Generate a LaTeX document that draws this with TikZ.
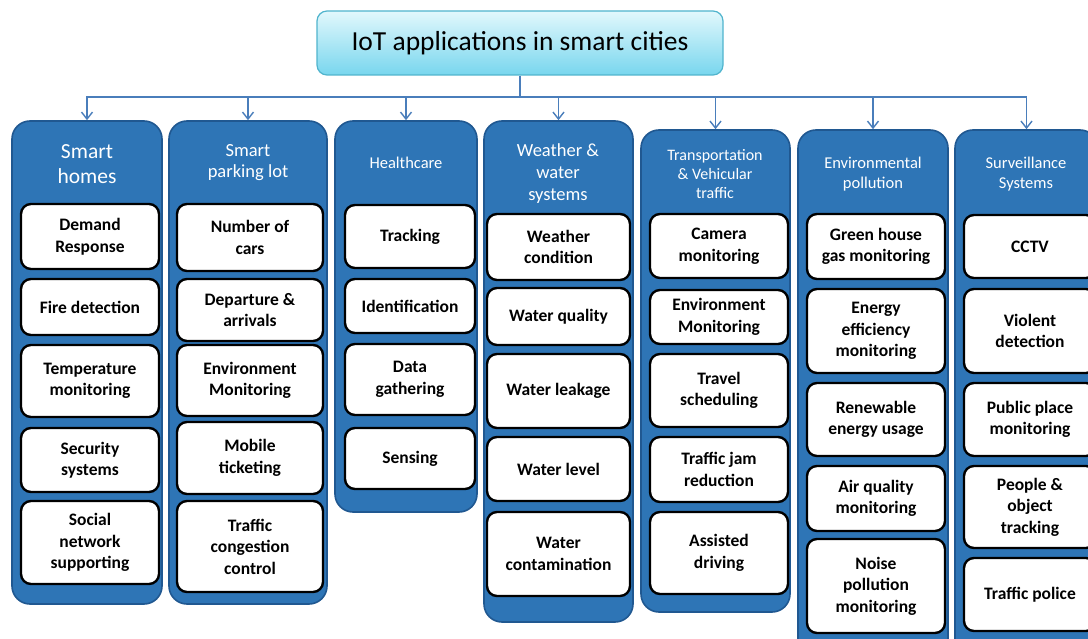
\documentclass[tikz,border=0pt]{standalone}
\usepackage{fontspec}
\setmainfont{Carlito}
\usetikzlibrary{arrows.meta}
\definecolor{colfill}{RGB}{46,117,182}
\definecolor{coledge}{RGB}{32,88,145}
\definecolor{connc}{RGB}{74,126,187}
\definecolor{ttop}{RGB}{226,248,252}
\definecolor{tbot}{RGB}{120,214,238}
\definecolor{tedge}{RGB}{80,180,205}
\tikzset{
  colbox/.style={draw=coledge, line width=1.6pt, fill=colfill, rounded corners=18pt, inner sep=0pt},
  itembox/.style={draw=black, line width=2.4pt, fill=white, rounded corners=10pt, inner sep=0pt, align=center,
    font=\fontsize{17.5}{21.5}\selectfont\bfseries},
  headtxt/.style={text=white, align=center, inner sep=0pt},
  conn/.style={draw=connc, line width=1.6pt},
  arr/.style={conn, -{Straight Barb[length=7pt,width=11pt,line width=1.4pt]}},
}
\newcommand\mybox[6]{%
  \node[itembox, minimum width={#4-#2}, minimum height={#5-#3}] (#1) at ({(#2+#4)/2},{(#3+#5)/2+1}) {#6};}
\newcommand\mycol[5]{%
  \node[colbox, minimum width={#4-#2}, minimum height={#5-#3}] (#1) at ({(#2+#4)/2},{(#3+#5)/2}) {};}
\begin{document}
\begin{tikzpicture}[x=1pt,y=-1pt]
\useasboundingbox (0,0) rectangle (1088,639);
\clip (0,0) rectangle (1088,639);

% title
\node[draw=tedge, line width=1.2pt, top color=ttop, bottom color=tbot, rounded corners=10pt,
  minimum width=406pt, minimum height=64pt, inner sep=0pt,
  font=\fontsize{27.5}{30}\selectfont] (title) at (520,43) {IoT applications in smart cities};

% columns
\mycol{c1}{12}{121}{162}{604}
\mycol{c2}{169}{121}{327}{604}
\mycol{c3}{335}{121}{477}{512}
\mycol{c4}{484}{121}{633}{622}
\mycol{c5}{641}{130}{790}{612}
\mycol{c6}{798}{130}{948}{665}
\mycol{c7}{955}{130}{1098}{665}

% connectors
\coordinate (hub) at (520,97);
\draw[conn] (title.south) -- (hub);
\foreach \c in {c1,c2,c3,c4,c5,c6,c7}{\draw[arr] (hub) -| (\c.north);}

% headers
\node[headtxt, font=\fontsize{21.5}{25}\selectfont] (h1) at (87,164) {Smart\\homes};
\node[headtxt, font=\fontsize{18.5}{21}\selectfont] (h2) at (248,163) {Smart\\parking lot};
\node[headtxt, font=\fontsize{16.5}{20}\selectfont] (h3) at (406,163) {Healthcare};
\node[headtxt, font=\fontsize{18.5}{22}\selectfont] (h4) at (558,174) {Weather \&\\water\\systems};
\node[headtxt, font=\fontsize{16}{19}\selectfont] (h5) at (715,174) {Transportation\\\& Vehicular\\traffic};
\node[headtxt, font=\fontsize{16.5}{20}\selectfont] (h6) at (873,174) {Environmental\\pollution};
\node[headtxt, font=\fontsize{16.5}{20}\selectfont] (h7) at (1026,174) {Surveillance\\Systems};

% column 1
\mybox{c1a}{21}{203}{159}{268}{Demand\\Response}
\mybox{c1b}{21}{278}{159}{334}{Fire detection}
\mybox{c1c}{21}{344}{159}{416}{Temperature\\monitoring}
\mybox{c1d}{21}{427}{159}{491}{Security\\systems}
\mybox{c1e}{21}{500}{159}{583}{Social\\network\\supporting}
% column 2
\mybox{c2a}{177}{203}{323}{270}{Number of\\cars}
\mybox{c2b}{177}{278}{323}{340}{Departure \&\\arrivals}
\mybox{c2c}{177}{344}{323}{415}{Environment\\Monitoring}
\mybox{c2d}{177}{421}{323}{493}{Mobile\\ticketing}
\mybox{c2e}{177}{500}{323}{591}{Traffic\\congestion\\control}
% column 3
\mybox{c3a}{345}{204}{475}{267}{Tracking}
\mybox{c3b}{345}{278}{475}{332}{Identification}
\mybox{c3c}{345}{343}{475}{414}{Data\\gathering}
\mybox{c3d}{345}{427}{475}{488}{Sensing}
% column 4
\mybox{c4a}{487}{213}{630}{279}{Weather\\condition}
\mybox{c4b}{487}{287}{630}{344}{Water quality}
\mybox{c4c}{487}{353}{630}{427}{Water leakage}
\mybox{c4d}{487}{436}{630}{500}{Water level}
\mybox{c4e}{487}{511}{630}{595}{Water\\contamination}
% column 5
\mybox{c5a}{650}{213}{788}{277}{Camera\\monitoring}
\mybox{c5b}{650}{289}{788}{343}{Environment\\Monitoring}
\mybox{c5c}{650}{353}{788}{426}{Travel\\scheduling}
\mybox{c5d}{650}{436}{788}{501}{Traffic jam\\reduction}
\mybox{c5e}{650}{511}{788}{593}{Assisted\\driving}
% column 6
\mybox{c6a}{807}{213}{945}{278}{Green house\\gas monitoring}
\mybox{c6b}{807}{288}{945}{372}{Energy\\efficiency\\monitoring}
\mybox{c6c}{807}{382}{945}{455}{Renewable\\energy usage}
\mybox{c6d}{807}{465}{945}{530}{Air quality\\monitoring}
\mybox{c6e}{807}{538}{945}{632}{Noise\\pollution\\monitoring}
% column 7
\mybox{c7a}{964}{214}{1096}{277}{CCTV}
\mybox{c7b}{964}{288}{1096}{372}{Violent\\detection}
\mybox{c7c}{964}{382}{1096}{455}{Public place\\monitoring}
\mybox{c7d}{964}{465}{1096}{547}{People \&\\object\\tracking}
\mybox{c7e}{964}{557}{1096}{630}{Traffic police}
\end{tikzpicture}
\end{document}
